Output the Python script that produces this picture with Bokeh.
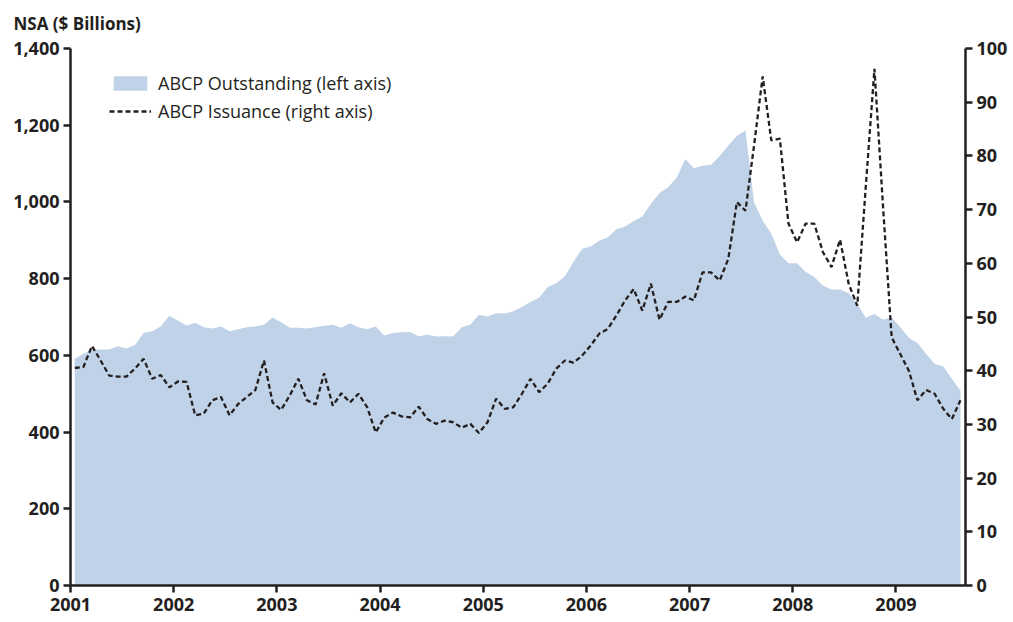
from bokeh.plotting import figure
from bokeh.models import (Range1d, LinearAxis, FixedTicker, NumeralTickFormatter,
                          Legend, LegendItem)
from bokeh.embed import file_html
from bokeh.resources import INLINE

# ---- data (monthly, Jan 2001 - Aug 2009) ----
outstanding = [591, 604, 614, 615, 615, 624, 618, 627, 658, 663, 675, 703,
               690, 678, 685, 673, 670, 675, 663, 668, 673, 675, 680, 699,
               686, 672, 672, 670, 673, 677, 680, 672, 684, 673, 668, 675,
               652, 658, 660, 661, 650, 654, 649, 650, 649, 673, 680, 706,
               701, 710, 709, 715, 726, 739, 750, 778, 788, 806, 844, 878,
               884, 899, 908, 929, 936, 950, 962, 995, 1023, 1038, 1063, 1112,
               1088, 1094, 1097, 1120, 1147, 1172, 1186, 999, 951, 918, 863, 840,
               840, 817, 804, 782, 772, 772, 762, 734, 698, 708, 693, 699,
               673, 646, 632, 604, 578, 571, 539, 508]
issuance = [40.5, 40.7, 44.6, 41.9, 39.1, 38.9, 38.9, 40.4, 42.2, 38.5, 39.2, 36.9,
            38.0, 37.9, 31.7, 32.0, 34.5, 35.1, 31.7, 33.8, 35.1, 36.4, 41.9, 34.1,
            32.7, 35.4, 38.5, 34.5, 33.7, 39.5, 33.5, 35.8, 34.1, 35.7, 33.2, 28.5,
            31.3, 32.2, 31.5, 31.3, 33.3, 31.0, 30.1, 30.7, 30.4, 29.4, 30.1, 28.4,
            30.4, 34.8, 32.9, 33.2, 35.7, 38.5, 36.0, 37.6, 40.4, 41.9, 41.5, 42.8,
            44.7, 46.9, 47.8, 50.3, 53.1, 55.2, 51.2, 56.2, 49.5, 52.8, 52.8, 53.8,
            53.1, 58.3, 58.3, 56.8, 60.8, 71.4, 69.8, 82.0, 94.8, 82.9, 83.2, 67.4,
            63.9, 67.4, 67.4, 62.1, 59.3, 64.4, 56.2, 52.1, 74.5, 96.2, 70.5, 46.2,
            43.1, 40.0, 34.5, 36.4, 35.7, 32.9, 31.0, 34.5]
start_year = 2001
months = [start_year + (i + 0.5) / 12 for i in range(len(outstanding))]
year_ticks = list(range(2001, 2010))
left_ticks = list(range(0, 1401, 200))
right_ticks = list(range(0, 101, 10))

FONT = "Open Sans"
INK = "#231f20"
AREA = "#bfd2e8"

p = figure(width=1010, height=618, output_backend="svg", toolbar_location=None,
           x_range=Range1d(2001, 2009.674), y_range=Range1d(0, 1400),
           min_border_left=70, min_border_right=44, min_border_top=48,
           min_border_bottom=33)
p.extra_y_ranges = {"right": Range1d(0, 100)}
p.outline_line_color = None
p.background_fill_color = "white"
p.xgrid.visible = False
p.ygrid.visible = False

p.title.text = "NSA ($ Billions)"
p.title.align = "left"
p.title.offset = -57
p.title.text_font = FONT
p.title.text_font_style = "bold"
p.title.text_font_size = "17px"
p.title.text_color = INK
p.title.vertical_align = "top"
p.title.standoff = 23

area = p.varea(x=months, y1=0, y2=outstanding, fill_color=AREA, fill_alpha=1)
line = p.line(x=months, y=issuance, y_range_name="right", line_color=INK,
              line_width=2.3, line_dash="5 3")

def style(ax):
    ax.axis_line_color = INK
    ax.axis_line_width = 2.5
    ax.major_tick_line_color = INK
    ax.major_tick_line_width = 2.5
    ax.major_tick_out = 7
    ax.major_tick_in = 0
    ax.minor_tick_line_color = None
    ax.major_label_text_font = FONT
    ax.major_label_text_font_style = "bold"
    ax.major_label_text_font_size = "18px"
    ax.major_label_text_color = INK
    ax.major_label_standoff = 4

xa = p.xaxis[0]
xa.ticker = FixedTicker(ticks=year_ticks)
style(xa)
xa.major_label_standoff = 5

ya = p.yaxis[0]
ya.ticker = FixedTicker(ticks=left_ticks)
ya.formatter = NumeralTickFormatter(format="0,0")
style(ya)

ra = LinearAxis(y_range_name="right", ticker=FixedTicker(ticks=right_ticks))
style(ra)
p.add_layout(ra, "right")

legend = Legend(items=[LegendItem(label="ABCP Outstanding (left axis)", renderers=[area]),
                       LegendItem(label="ABCP Issuance (right axis)", renderers=[line])],
                location=(39, 462), orientation="vertical",
                padding=0, margin=0, spacing=4,
                glyph_width=42, glyph_height=18, label_height=22,
                label_standoff=7,
                label_text_font=FONT, label_text_font_size="18px",
                label_text_color=INK,
                border_line_alpha=0, background_fill_alpha=0)
p.add_layout(legend, "center")

open("out.html", "w").write(file_html(p, INLINE))
